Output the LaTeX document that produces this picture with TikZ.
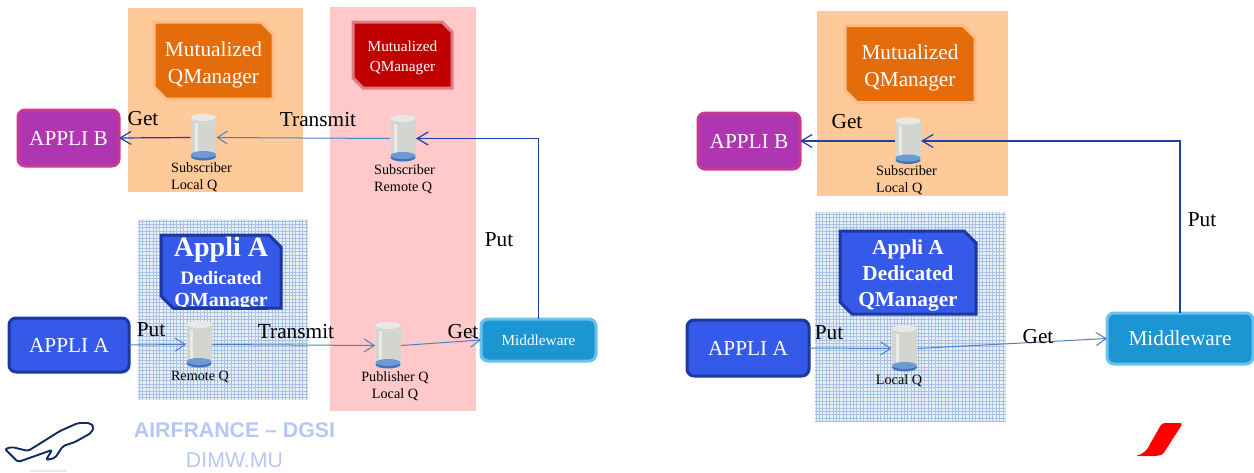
\documentclass[tikz,border=0pt]{standalone}
\usepackage{fontspec}
\setmainfont{Liberation Serif}
\setsansfont{Liberation Sans}
\usetikzlibrary{arrows.meta}
\definecolor{panelorange}{HTML}{FFCA99}
\definecolor{boxorange}{HTML}{E46C0A}
\definecolor{haloorange}{HTML}{FBBC86}
\definecolor{panelred}{HTML}{FFC9C9}
\definecolor{boxred}{HTML}{C00000}
\definecolor{halored}{HTML}{DE7C84}
\definecolor{appliblue}{HTML}{3559E8}
\definecolor{edgeblue}{HTML}{1C37A0}
\definecolor{applipurple}{HTML}{B035B0}
\definecolor{edgepurple}{HTML}{C83A90}
\definecolor{mwblue}{HTML}{1B96D2}
\definecolor{mwedge}{HTML}{6CC0EE}
\definecolor{linkdark}{HTML}{1F3FA8}
\definecolor{linklight}{HTML}{4A80C8}
\definecolor{gridfill}{HTML}{EBF1F9}
\definecolor{gridline}{HTML}{A8C1E2}
\definecolor{captionblue}{HTML}{B4C7F5}
\definecolor{planeblue}{HTML}{0F2A5C}
\definecolor{qbody}{HTML}{D3D6D0}
\definecolor{qtop}{HTML}{E8E9E6}
\definecolor{qstrip}{HTML}{EAEBE8}
\definecolor{qbase}{HTML}{3F73BC}
\definecolor{qwater}{HTML}{6C9AD5}
\newcommand{\snipbox}[3]{%
  \filldraw[#2,line width=3pt,line join=miter]
    (#1.north west) -- ([xshift=-#3]#1.north east) -- ([yshift=-#3]#1.north east)
    -- (#1.south east) -- ([xshift=#3]#1.south west) -- ([yshift=#3]#1.south west) -- cycle;}
\tikzset{
  panel/.style={inner sep=0pt,outer sep=0pt},
  qmgr/.style={rectangle,inner sep=0pt,outer sep=0pt},
  qmgrtext/.style={inner sep=0pt,align=center,text=white},
  appli/.style={rectangle,rounded corners=7pt,inner sep=0pt,outer sep=0pt,align=center,text=white},
  applia/.style={appli,fill=appliblue,draw=edgeblue,line width=3pt,font=\fontsize{21.3}{24}\selectfont},
  applib/.style={appli,fill=applipurple,draw=edgepurple,line width=3pt,font=\fontsize{21.3}{24}\selectfont},
  mware/.style={appli,fill=mwblue,draw=mwedge,line width=3pt},
  queue/.style={rectangle,inner sep=0pt,outer sep=0pt,minimum width=26pt,minimum height=47pt,
    path picture={
      \begin{scope}[shift={(path picture bounding box.center)}]
        \fill[qbody] (-12.5,-20) rectangle (12.5,19);
        \fill[qtop] (0,-20) ellipse (12.5pt and 3.5pt);
        \fill[qstrip] (-9,-15) rectangle (-6,17);
        \fill[qbase] (0,19) ellipse (12.5pt and 4pt);
        \fill[qwater] (0,17) ellipse (12.5pt and 3.5pt);
      \end{scope}
    }},
  qlabel/.style={inner sep=0pt,align=left,font=\fontsize{14.2}{17}\selectfont},
  verb/.style={inner sep=0pt,font=\fontsize{21.3}{24}\selectfont},
  linkthin/.style={draw=linklight,line width=1pt,-{Straight Barb[length=10pt,width=13pt]}},
  linkbold/.style={draw=linkdark,line width=1.2pt,-{Straight Barb[length=11pt,width=13pt]}}
}
\begin{document}
\begin{tikzpicture}[x=1pt,y=-1pt]
  \useasboundingbox (0,0) rectangle (1254,472);
  % left side
  \node[panel,fill=panelorange,minimum width=175pt,minimum height=184pt] (leftpanelB) at (215.5,100) {};
  \node[panel,fill=panelred,minimum width=146pt,minimum height=404pt] (leftpanelMid) at (403,209) {};
  \node[panel,fill=gridfill,minimum width=170pt,minimum height=181pt] (leftpanelA) at (223,309.5) {};
  \begin{scope}
    \clip (leftpanelA.north west) rectangle (leftpanelA.south east);
    \draw[gridline,line width=0.8pt,step=3.4pt] (138,220) grid (308,400);
  \end{scope}
  \node[qmgr,minimum width=119pt,minimum height=77pt] (leftmgrB) at (213.5,60.5) {};
  \snipbox{leftmgrB}{fill=boxorange,draw=haloorange}{12pt}
  \node[qmgrtext,font=\fontsize{21.3}{27}\selectfont] (leftmgrBtext) at (213.5,64.5) {Mutualized\\QManager};
  \node[qmgr,minimum width=99pt,minimum height=66pt] (leftmgrMid) at (402.5,55) {};
  \snipbox{leftmgrMid}{fill=boxred,draw=halored}{10pt}
  \node[qmgrtext,font=\fontsize{15.3}{20}\selectfont] (leftmgrMidtext) at (402.5,57.5) {Mutualized\\QManager};
  \node[qmgr,minimum width=120pt,minimum height=73pt] (leftmgrA) at (221,271.5) {};
  \snipbox{leftmgrA}{fill=appliblue,draw=edgeblue}{12pt}
  \node[qmgrtext,font=\bfseries\fontsize{28}{30}\selectfont] (leftmgrAtitle) at (221,250) {Appli A};
  \node[qmgrtext,font=\bfseries\fontsize{19}{22}\selectfont] (leftmgrAsub) at (221,278) {Dedicated};
  \node[qmgrtext,font=\bfseries\fontsize{20}{22}\selectfont] (leftmgrAname) at (221,302.5) {QManager};
  \draw[edgeblue,line width=3pt] (leftmgrA.south -| leftmgrAname.west) -- (leftmgrA.south -| leftmgrAname.east);
  \node[applib,minimum width=101pt,minimum height=56pt] (leftappB) at (68.5,138) {APPLI B};
  \node[applia,minimum width=120pt,minimum height=54pt] (leftappA) at (69,345) {APPLI A};
  \node[mware,minimum width=115pt,minimum height=42pt,font=\fontsize{15.3}{18}\selectfont] (leftmw) at (538.5,340) {Middleware};
  \node[queue] (leftsubL) at (203.5,137.5) {};
  \node[queue] (leftsubR) at (403,138.5) {};
  \node[queue] (leftremote) at (199,344.5) {};
  \node[queue] (leftpub) at (388,345.5) {};
  \node[qlabel,anchor=north west] (leftsubLlabel) at (171,162) {Subscriber\\Local Q};
  \node[qlabel,anchor=north west] (leftsubRlabel) at (374,164) {Subscriber\\Remote Q};
  \node[qlabel] (leftremotelabel) at (200,377) {Remote Q};
  \node[qlabel,align=center] (leftpublabel) at (395,386.5) {Publisher Q\\Local Q};
  \draw[linkbold] (leftsubL.west) -- (leftappB.east);
  \draw[linkthin] (leftsubR.west) -- (leftsubL.east);
  \draw[linkbold] (leftmw.north) |- (leftsubR.east);
  \draw[linkthin] (leftappA.east) -- (leftremote.west);
  \draw[linkthin] (leftremote.east) -- (leftpub.west);
  \draw[linkthin] (leftpub.east) -- (leftmw.west);
  \node[verb] (leftget1) at (143,119) {Get};
  \node[verb] (lefttrans1) at (318,120) {Transmit};
  \node[verb] (leftput1) at (499,240) {Put};
  \node[verb] (leftput2) at (151,330) {Put};
  \node[verb] (lefttrans2) at (296,332) {Transmit};
  \node[verb] (leftget2) at (463,332) {Get};
  % right side
  \node[panel,fill=panelorange,minimum width=191pt,minimum height=185pt] (rightpanelB) at (912.5,103.5) {};
  \node[panel,fill=gridfill,minimum width=191pt,minimum height=210pt] (rightpanelA) at (910.5,317) {};
  \begin{scope}
    \clip (rightpanelA.north west) rectangle (rightpanelA.south east);
    \draw[gridline,line width=0.8pt,step=3.4pt] (815,212) grid (1006,422);
  \end{scope}
  \node[qmgr,minimum width=130pt,minimum height=77pt] (rightmgrB) at (910,64) {};
  \snipbox{rightmgrB}{fill=boxorange,draw=haloorange}{12pt}
  \node[qmgrtext,font=\fontsize{21.3}{27}\selectfont] (rightmgrBtext) at (910,67.5) {Mutualized\\QManager};
  \node[qmgr,minimum width=136pt,minimum height=83pt] (rightmgrA) at (908,272.5) {};
  \snipbox{rightmgrA}{fill=appliblue,draw=edgeblue}{12pt}
  \node[qmgrtext,font=\bfseries\fontsize{21.3}{26}\selectfont] (rightmgrAtext) at (908,275) {Appli A\\Dedicated\\QManager};
  \node[applib,minimum width=102pt,minimum height=56pt] (rightappB) at (749,141) {APPLI B};
  \node[applia,minimum width=122pt,minimum height=56pt] (rightappA) at (748,348) {APPLI A};
  \node[mware,minimum width=146pt,minimum height=51pt,font=\fontsize{21.3}{24}\selectfont] (rightmw) at (1180,338.5) {Middleware};
  \node[queue] (rightsubL) at (908,141) {};
  \node[queue] (rightlocal) at (904.5,348.5) {};
  \node[qlabel,anchor=north west] (rightsubLlabel) at (876,165) {Subscriber\\Local Q};
  \node[qlabel] (rightlocallabel) at (899,381) {Local Q};
  \draw[linkbold] (rightsubL.west) -- (rightappB.east);
  \draw[linkbold] (rightmw.north) |- (rightsubL.east);
  \draw[linkthin] (rightappA.east) -- (rightlocal.west);
  \draw[linkthin] (rightlocal.east) -- (rightmw.west);
  \node[verb] (rightget1) at (847,122) {Get};
  \node[verb] (rightput1) at (1202,220) {Put};
  \node[verb] (rightput2) at (829,333) {Put};
  \node[verb] (rightget2) at (1038,337) {Get};
  % footer
  \node[inner sep=0pt,text=captionblue,font=\sffamily\bfseries\fontsize{21.3}{24}\selectfont] (footerorg) at (234.5,430) {AIRFRANCE -- DGSI};
  \node[inner sep=0pt,text=captionblue,font=\sffamily\fontsize{21.3}{24}\selectfont] (footerunit) at (234.5,460) {DIMW.MU};
  \draw[planeblue,line width=1.9pt,rounded corners=2pt,line join=round]
    (5,449) -- (12,447) -- (28,451) -- (60,431) -- (78,423) -- (90,423) -- (94,427) -- (91,433)
    -- (75,442) -- (63,446) -- (55,458) -- (46,460) -- (52,450) -- (18,462) -- cycle;
  \fill[gray!18] (30,470) rectangle (67,472);
  \fill[red,rounded corners=3pt] (1162,423) -- (1183,423) -- (1165,451) .. controls (1162,455) and (1158,456) .. (1152,456) -- (1135,456) .. controls (1143,454) and (1147,450) .. (1150,444) -- cycle;
\end{tikzpicture}
\end{document}
